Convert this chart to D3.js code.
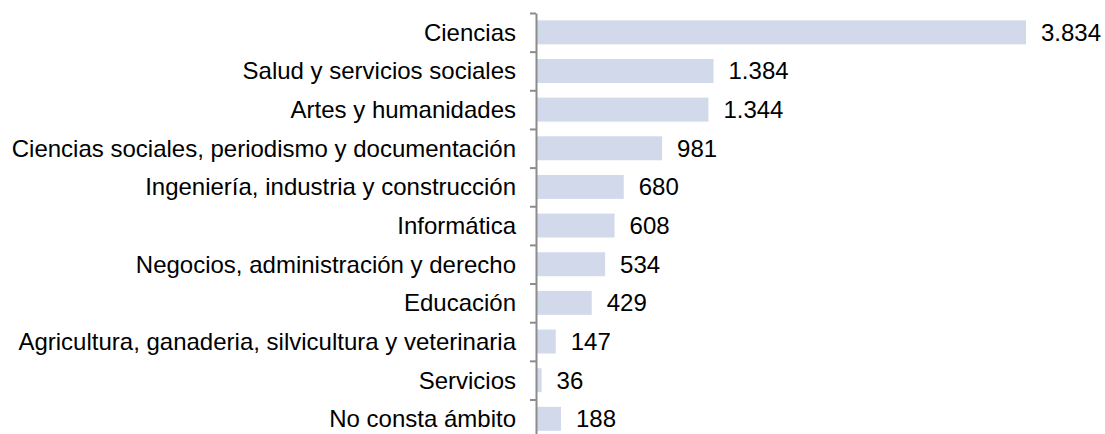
<!DOCTYPE html>
<html>
<head>
<meta charset="utf-8">
<script src="https://cdn.jsdelivr.net/npm/d3@7"></script>
<style>
  body { margin: 0; background: #fff; }
  text { font-family: Arial, "Liberation Sans", sans-serif; fill: #000; }
  .axis path, .axis line { stroke: #8c8c8c; stroke-width: 2; }
</style>
</head>
<body>
<div id="chart"></div>
<script>
// categories, top to bottom
const categories = [
    "Ciencias",
    "Salud y servicios sociales",
    "Artes y humanidades",
    "Ciencias sociales, periodismo y documentación",
    "Ingeniería, industria y construcción",
    "Informática",
    "Negocios, administración y derecho",
    "Educación",
    "Agricultura, ganaderia, silvicultura y veterinaria",
    "Servicios",
    "No consta ámbito"
];
const values = [3834, 1384, 1344, 981, 680, 608, 534, 429, 147, 36, 188];
const valueLabels = ["3.834", "1.384", "1.344", "981", "680", "608", "534", "429", "147", "36", "188"];

const width = 1105, height = 434;
const margin = {top: 13, left: 537};
const step = 38.65;

const svg = d3.select("#chart").append("svg")
    .attr("width", width)
    .attr("height", height);

const y = d3.scaleBand()
    .domain(categories)
    .range([margin.top, margin.top + step * categories.length])
    .paddingInner(0.38)
    .paddingOuter(0.19);

const x = d3.scaleLinear()
    .domain([0, 3834])
    .range([margin.left, 1026]);

// bars
svg.selectAll("rect.bar")
    .data(categories)
    .enter().append("rect")
    .attr("class", "bar")
    .attr("x", x(0))
    .attr("y", d => y(d))
    .attr("width", (d, i) => x(values[i]) - x(0))
    .attr("height", y.bandwidth())
    .attr("fill", "#d1d9ea");

// axis with ticks at the band boundaries
const yIdx = d3.scaleLinear()
    .domain([0, categories.length])
    .range([margin.top, margin.top + step * categories.length]);

svg.append("g")
    .attr("class", "axis")
    .attr("transform", "translate(" + (margin.left - 1) + ",0)")
    .call(d3.axisLeft(yIdx)
        .tickValues(d3.range(0, categories.length + 1))
        .tickSize(6)
        .tickSizeOuter(0)
        .tickFormat(""));

// category labels
svg.selectAll("text.cat")
    .data(categories)
    .enter().append("text")
    .attr("class", "cat")
    .attr("x", 516)
    .attr("y", d => y(d) + y.bandwidth() / 2)
    .attr("dy", "0.35em")
    .attr("text-anchor", "end")
    .style("font-size", "24px")
    .text(d => d);

// value labels
svg.selectAll("text.val")
    .data(categories)
    .enter().append("text")
    .attr("class", "val")
    .attr("x", (d, i) => x(values[i]) + 15)
    .attr("y", d => y(d) + y.bandwidth() / 2)
    .attr("dy", "0.35em")
    .style("font-size", "24px")
    .text((d, i) => valueLabels[i]);
</script>
</body>
</html>
